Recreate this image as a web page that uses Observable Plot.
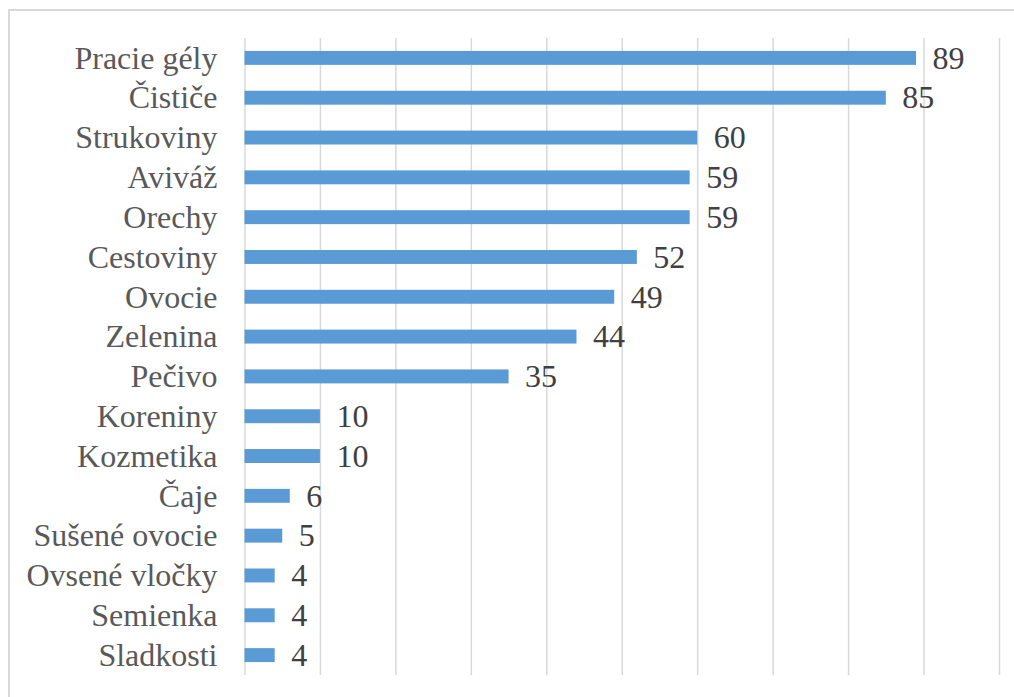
<!DOCTYPE html>
<html>
<head>
<meta charset="utf-8">
<script src="https://cdn.jsdelivr.net/npm/d3@7"></script>
<script src="https://cdn.jsdelivr.net/npm/@observablehq/plot@0.6"></script>
<style>
  html, body { margin: 0; padding: 0; background: #fff; }
  #wrap { position: relative; width: 1014px; height: 697px; overflow: hidden; }
  #border { position: absolute; left: 8px; top: 9px; width: 1020px; height: 700px; border: 2px solid #d9d9d9; box-sizing: border-box; pointer-events: none; }
  #chart { position: absolute; left: 0; top: 0; }
</style>
</head>
<body>
<div id="wrap"><div id="border"></div><div id="chart"></div></div>
<script>
const categories = ["Pracie gély", "Čističe", "Strukoviny", "Aviváž", "Orechy", "Cestoviny", "Ovocie", "Zelenina", "Pečivo", "Koreniny", "Kozmetika", "Čaje", "Sušené ovocie", "Ovsené vločky", "Semienka", "Sladkosti"];
const values = [89, 85, 60, 59, 59, 52, 49, 44, 35, 10, 10, 6, 5, 4, 4, 4];
const gridTicks = [0, 10, 20, 30, 40, 50, 60, 70, 80, 90, 100];

const data = categories.map((c, i) => ({category: c, value: values[i]}));
const FONT = "'Liberation Serif', 'Times New Roman', serif";

const chart = Plot.plot({
  width: 1014,
  height: 697,
  marginLeft: 244.5,
  marginRight: 15,
  marginTop: 38,
  marginBottom: 22,
  style: {fontFamily: FONT, fontSize: "32px", background: "transparent"},
  x: {domain: [0, 100], axis: null},
  y: {domain: categories, paddingInner: 0.65, paddingOuter: 0.325, round: false, axis: null},
  marks: [
    Plot.ruleX(gridTicks, {x: d => d, stroke: "#d9d9d9", strokeWidth: 1.5, strokeOpacity: 1}),
    Plot.barX(data, {y: "category", x: "value", fill: "#5b9bd5"}),
    Plot.axisY({tickSize: 0, tickPadding: 27.5, fill: "#595959", fontSize: 32, fontFamily: FONT, label: null}),
    Plot.text(data, {y: "category", x: "value", text: d => String(d.value), textAnchor: "start", dx: 16, fill: "#404040", fontSize: 32, fontFamily: FONT})
  ]
});
document.getElementById("chart").appendChild(chart);
</script>
</body>
</html>
